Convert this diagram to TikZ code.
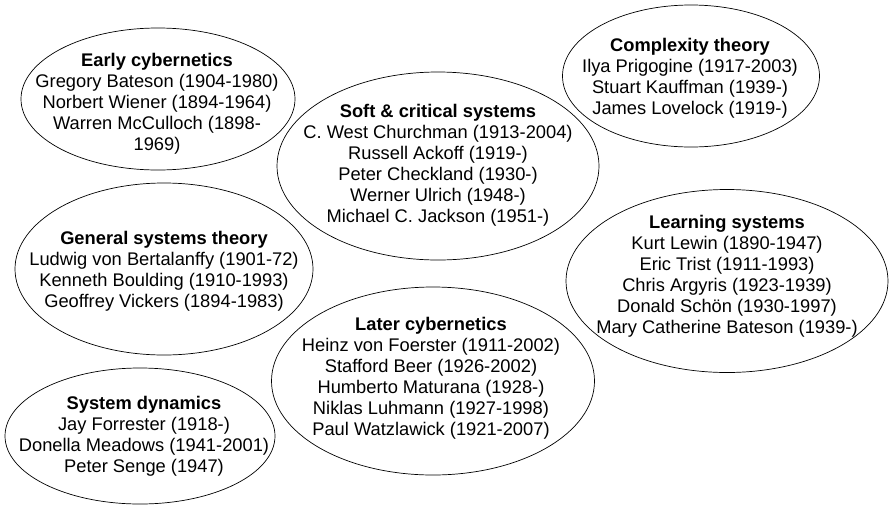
\documentclass[tikz,border=0pt]{standalone}
\usepackage{fontspec}
\setmainfont{Liberation Sans}
\usetikzlibrary{shapes.geometric}

\tikzset{
    ring/.style = {draw, ellipse, line width=0.7pt, inner sep=0pt},
    names/.style = {align=center, inner sep=0pt, font=\fontsize{18.3}{21}\selectfont},
}

\begin{document}
\begin{tikzpicture}[x=1pt, y=-1pt]
        \useasboundingbox (0, 0) rectangle (889, 504);

        \node[ring, minimum width=274, minimum height=142] (early) at (158, 99) {};
        \node[names] (earlyT) at (157, 104) {\textbf{Early cybernetics}\\Gregory Bateson (1904-1980)\\Norbert Wiener (1894-1964)\\Warren McCulloch (1898-\\1969)};

        \node[ring, minimum width=322, minimum height=188] (soft) at (438, 166) {};
        \node[names] (softT) at (438, 165) {\textbf{Soft \& critical systems}\\C. West Churchman (1913-2004)\\Russell Ackoff (1919-)\\Peter Checkland (1930-)\\Werner Ulrich (1948-)\\Michael C. Jackson (1951-)};

        \node[ring, minimum width=257, minimum height=142] (complex) at (691, 76) {};
        \node[names] (complexT) at (690, 78) {\textbf{Complexity theory}\\Ilya Prigogine (1917-2003)\\Stuart Kauffman (1939-)\\James Lovelock (1919-)};

        \node[ring, minimum width=298, minimum height=172] (general) at (164, 269) {};
        \node[names] (generalT) at (164, 271) {\textbf{General systems theory}\\Ludwig von Bertalanffy (1901-72)\\Kenneth Boulding (1910-1993)\\Geoffrey Vickers (1894-1983)};

        \node[ring, minimum width=322, minimum height=183] (learning) at (727, 281) {};
        \node[names] (learningT) at (727, 276) {\textbf{Learning systems}\\Kurt Lewin (1890-1947)\\Eric Trist (1911-1993)\\Chris Argyris (1923-1939)\\Donald Schön (1930-1997)\\Mary Catherine Bateson (1939-)};

        \node[ring, minimum width=323, minimum height=188] (later) at (433, 381) {};
        \node[names] (laterT) at (431, 378) {\textbf{Later cybernetics}\\Heinz von Foerster (1911-2002)\\Stafford Beer (1926-2002)\\Humberto Maturana (1928-)\\Niklas Luhmann (1927-1998)\\Paul Watzlawick (1921-2007)};

        \node[ring, minimum width=270, minimum height=136] (dynamics) at (140, 436) {};
        \node[names] (dynamicsT) at (144, 436) {\textbf{System dynamics}\\Jay Forrester (1918-)\\Donella Meadows (1941-2001)\\Peter Senge (1947)};
    \end{tikzpicture}
\end{document}
